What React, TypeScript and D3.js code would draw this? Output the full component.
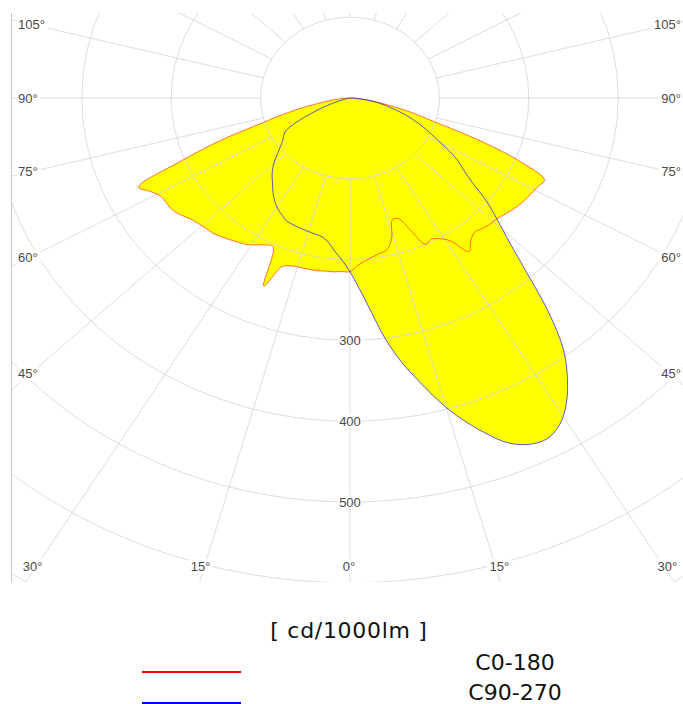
import * as d3 from "d3";

const W = 683;
const H = 704;
const CX = 350;
const CY = 98;
// pixels per cd/1000lm (the source picture is stretched a little horizontally)
const SX = 0.894;
const SY = 0.808;
const SX_RAY = 0.937;
const FRAME = { x0: 11.5, y0: 13, x1: 700, y1: 582 };

// gamma angles (deg, 0 = straight down)
const gammaDeg = [
  0, 2.5, 5, 7.5, 10, 12.5, 15, 17.5, 20, 22.5, 25, 27.5, 30, 32.5, 35, 37.5, 40,
  42.5, 45, 47.5, 50, 52.5, 55, 57.5, 60, 62.5, 65, 67.5, 70, 72.5, 75, 77.5, 80,
  82.5, 85, 87.5, 90,
];

// intensities in cd/1000lm per half plane
const c0 = [
  215, 207, 202, 198, 195, 192, 180, 158, 159, 177, 200, 197, 201, 210, 232, 222,
  217, 219, 221, 222, 225, 228, 231, 233, 235, 237, 240, 207, 155, 102, 75, 52, 33,
  20, 11, 5, 0,
];
const c180 = [
  215, 215, 216, 216, 217, 217, 217, 218, 222, 252, 203, 205, 210, 215, 218, 221,
  224, 227, 228, 230, 233, 238, 242, 243, 244, 251, 261, 206, 155, 104, 76, 52, 32,
  20, 11, 5, 0,
];
const c90 = [
  215, 236, 264, 300, 332, 360, 390, 417, 441, 462, 473, 476, 468, 450, 424, 392,
  345, 292, 252, 224, 200, 173, 155, 142, 125, 108, 96, 84, 72, 60, 48, 39, 30, 20,
  12, 5, 0,
];
const c270 = [
  215, 201, 191, 181, 175, 173, 172, 171, 170, 169, 168, 164, 160, 155, 149, 142,
  135, 129, 122, 114, 105, 98, 92, 88, 84, 73, 56, 40, 27, 16, 7, 3, 1, 0, 0, 0, 0,
];

const ringValues = [100, 200, 300, 400, 500, 600, 700, 800];
const ringLabels = [300, 400, 500];
const sideLabels = [105, 90, 75, 60, 45];
const bottomLabels = [30, 15, 0];

const series = [
  { name: "C0-180", right: c0, left: c180, color: "#ff0000", opacity: 0.7 },
  { name: "C90-270", right: c90, left: c270, color: "#0000ff", opacity: 0.8 },
];

const rx = d3.scaleLinear().domain([0, 100]).range([0, 100 * SX]);
const ry = d3.scaleLinear().domain([0, 100]).range([0, 100 * SY]);
const rad = (d: number) => (d * Math.PI) / 180;

function toXY(g: number, r: number, side: number): [number, number] {
  return [CX + side * rx(r) * Math.sin(rad(g)), CY + ry(r) * Math.cos(rad(g))];
}

const lineGen = d3.line().curve(d3.curveCatmullRomClosed.alpha(0.5));

function curvePath(right: number[], left: number[]) {
  const pts: [number, number][] = [];
  for (let i = gammaDeg.length - 1; i > 0; i--) pts.push(toXY(gammaDeg[i], right[i], 1));
  for (let i = 0; i < gammaDeg.length - 1; i++) pts.push(toXY(gammaDeg[i], left[i], -1));
  return lineGen(pts) as string;
}

// ray direction in pixel space
function rayDir(a: number) {
  return [Math.sin(rad(a)) * SX_RAY, Math.cos(rad(a)) * SY];
}

function ray(a: number) {
  const [dx, dy] = rayDir(a);
  const x100 = rx(100);
  const y100 = ry(100);
  const t0 = 1 / Math.sqrt((dx / x100) ** 2 + (dy / y100) ** 2);
  const t1 = 2000;
  return { x1: CX + dx * t0, y1: CY + dy * t0, x2: CX + dx * t1, y2: CY + dy * t1 };
}

function Label({ x, y, text, anchor = "middle" }: { x: number; y: number; text: string; anchor?: string }) {
  const w = text.length * 7.2 + 2;
  const x0 = anchor === "start" ? x - 1 : anchor === "end" ? x - w + 1 : x - w / 2;
  return (
    <g>
      <rect x={x0} y={y - 7} width={w} height={14} fill="#fff" />
      <text
        x={x}
        y={y}
        textAnchor={anchor}
        dominantBaseline="central"
        fontFamily="Liberation Sans, Arial, sans-serif"
        fontSize={13}
        fill="#4a4a4a"
      >
        {text}
      </text>
    </g>
  );
}

export default function App() {
  const rays = d3.range(0, 360, 15);
  const gridColor = "#d6d6d6";

  const sideLabelEls = sideLabels.flatMap((a) => {
    const [dx, dy] = rayDir(a);
    const y = CY + ((CX - 30) / dx) * dy;
    return [
      <Label key={`l${a}`} x={18} y={y} text={`${a}°`} anchor="start" />,
      <Label key={`r${a}`} x={681} y={y} text={`${a}°`} anchor="end" />,
    ];
  });
  const bottomLabelEls = bottomLabels.flatMap((a) => {
    const [dx, dy] = rayDir(a);
    const y = 566;
    const off = ((y - CY) / dy) * dx;
    if (a === 0) return [<Label key="b0" x={CX - 1} y={y} text="0°" />];
    return [
      <Label key={`bl${a}`} x={CX - off - 4} y={y} text={`${a}°`} />,
      <Label key={`br${a}`} x={CX + off + 4} y={y} text={`${a}°`} />,
    ];
  });

  return (
    <svg
      width={W}
      height={H}
      style={{ position: "absolute", left: 0, top: 0, background: "#fff" }}
    >
      <defs>
        <clipPath id="frame">
          <rect x={FRAME.x0} y={FRAME.y0} width={FRAME.x1 - FRAME.x0} height={FRAME.y1 - FRAME.y0} />
        </clipPath>
      </defs>
      <g clipPath="url(#frame)">
        {series.map((s) => (
          <path key={`f${s.name}`} d={curvePath(s.right, s.left)} fill="#ffff00" stroke="none" />
        ))}
        <g stroke={gridColor} strokeOpacity={0.85} fill="none" strokeWidth={1}>
          {ringValues.map((v) => (
            <ellipse key={v} cx={CX} cy={CY} rx={rx(v)} ry={ry(v)} />
          ))}
          {rays.map((a) => {
            const r = ray(a);
            return <line key={a} {...r} />;
          })}
        </g>
        {series.map((s) => (
          <path
            key={`s${s.name}`}
            d={curvePath(s.right, s.left)}
            fill="none"
            stroke={s.color}
            strokeWidth={0.8}
            strokeOpacity={s.opacity}
            strokeLinejoin="round"
          />
        ))}
        {ringLabels.map((v) => (
          <Label key={`v${v}`} x={CX} y={CY + ry(v)} text={`${v}`} />
        ))}
        {sideLabelEls}
        {bottomLabelEls}
      </g>
      <line x1={FRAME.x0} x2={FRAME.x0} y1={FRAME.y0} y2={FRAME.y1} stroke="#c8c8c8" />

      <text
        x={349}
        y={638}
        textAnchor="middle"
        fontFamily="DejaVu Sans, sans-serif"
        fontSize={22}
        letterSpacing={0.7}
        fill="#111"
      >
        [ cd/1000lm ]
      </text>
      {series.map((s, i) => (
        <g key={`lg${s.name}`}>
          <line x1={142} x2={241} y1={672 + i * 31} y2={672 + i * 31} stroke={s.color} strokeWidth={2} />
          <text
            x={515}
            y={670 + i * 30}
            textAnchor="middle"
            fontFamily="DejaVu Sans, sans-serif"
            fontSize={22}
            fill="#111"
          >
            {s.name}
          </text>
        </g>
      ))}
    </svg>
  );
}
